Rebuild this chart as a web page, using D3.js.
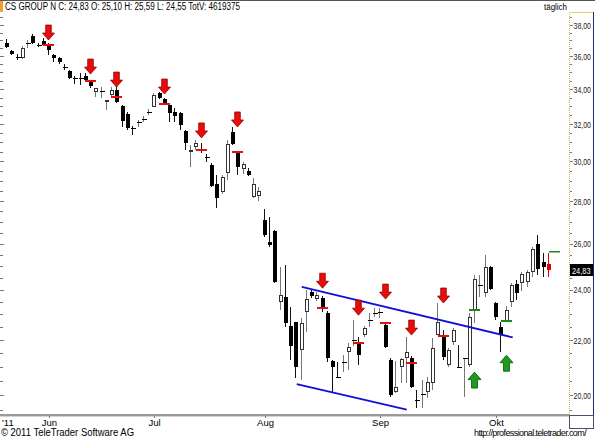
<!DOCTYPE html>
<html><head><meta charset="utf-8">
<script src="https://cdn.jsdelivr.net/npm/d3@7"></script>
<style>html,body{margin:0;padding:0;background:#fff;} svg{display:block;font-family:"Liberation Sans",Arial,sans-serif;}</style>
</head><body><div id="chart"></div>
<script>
// ---------- data ----------
const startDate = [2011, 4, 20];            // 20 May 2011
const holidays = ["2011-06-02", "2011-06-13", "2011-08-01"];
const nBars = 104;
const monthNames = ["Jan","Feb","Mär","Apr","Mai","Jun","Jul","Aug","Sep","Okt","Nov","Dez"];
const yearLabel = "'11";
const opens = [36.83,36.33,35.96,35.89,36.76,37.28,36.72,36.96,36.70,36.07,
 35.89,35.33,35.09,34.68,34.66,34.78,34.42,33.83,33.83,33.24,
 33.65,33.95,33.01,32.56,31.78,32.06,32.25,32.62,32.96,33.77,
 33.42,33.07,32.68,32.62,31.62,30.49,30.75,30.59,30.22,29.80,
 28.84,28.44,29.40,31.56,30.43,29.60,29.50,28.19,28.24,27.09,
 26.08,26.58,23.50,23.70,22.54,22.69,21.62,23.09,23.91,23.62,
 23.66,23.05,21.21,20.63,21.17,21.54,22.00,21.89,22.19,22.77,
 23.03,23.09,22.58,21.25,20.10,20.99,21.32,21.32,19.83,20.00,
 20.10,20.41,22.19,22.19,21.06,21.93,20.99,21.30,21.06,23.17,
 24.18,23.86,24.97,23.46,22.50,22.73,23.50,24.24,24.28,24.33,
 24.75,25.98,25.18,25.10];
const highs = [37.08,36.39,36.13,36.64,37.02,37.41,36.83,37.15,36.83,36.13,
 35.95,35.51,35.15,34.78,34.96,34.96,34.54,34.07,34.12,33.36,
 34.12,34.24,33.07,32.68,31.90,32.22,32.45,32.85,33.77,33.83,
 33.48,33.13,32.90,32.68,31.67,30.86,31.13,30.97,30.38,29.91,
 29.29,29.29,31.13,31.84,30.49,29.96,29.65,29.14,28.69,27.61,
 27.23,26.62,24.97,25.06,23.29,22.69,22.85,23.99,23.99,23.91,
 23.74,23.13,21.25,21.17,21.43,21.89,22.77,22.11,22.54,23.05,
 23.25,23.25,22.65,21.32,21.21,21.32,22.11,21.40,20.17,20.52,
 20.63,22.08,23.46,22.38,21.70,22.46,21.81,21.32,23.05,24.62,
 24.62,25.49,25.02,23.50,22.69,23.33,24.28,24.41,24.75,24.84,
 25.85,26.39,25.58,25.59];
const lows = [36.51,36.07,35.76,35.82,36.51,36.76,36.57,36.76,36.07,35.64,
 35.51,35.15,34.60,34.30,34.24,34.47,34.06,33.53,33.48,32.79,
 33.53,33.18,31.84,31.67,31.40,31.84,32.12,32.51,32.96,33.42,
 33.07,32.11,32.11,31.67,30.59,29.70,30.59,30.43,29.96,28.69,
 27.66,28.34,29.04,30.86,29.29,29.34,29.24,28.14,28.00,26.30,
 25.85,24.29,23.17,22.50,21.25,20.59,20.52,22.30,23.66,23.54,
 23.09,21.17,20.10,20.59,20.81,20.88,21.77,21.06,22.11,22.50,
 22.89,22.85,21.70,19.93,20.06,20.41,20.41,20.24,19.55,19.55,
 19.89,20.17,22.19,21.25,20.99,21.81,20.95,19.93,20.99,22.65,
 23.70,23.70,23.99,22.77,21.54,22.69,23.29,23.58,23.95,24.12,
 24.54,24.62,24.54,24.55];
const closes = [36.57,36.13,35.93,36.51,36.80,36.83,36.70,36.70,36.39,35.89,
 35.64,35.30,34.66,34.66,34.64,34.54,34.18,34.07,33.89,33.36,
 33.95,33.24,32.17,31.78,31.73,32.12,32.30,32.68,33.65,33.48,
 33.18,32.62,32.45,31.95,30.97,30.59,30.97,30.56,30.20,28.74,
 28.14,29.19,30.91,30.91,29.70,29.86,29.29,28.84,28.49,26.39,
 25.94,24.33,23.78,22.65,21.77,20.99,22.65,23.62,23.74,23.78,
 23.25,21.32,20.99,20.62,21.19,21.73,22.01,21.43,22.46,22.79,
 23.05,23.11,21.73,20.00,20.27,21.28,21.54,20.27,19.82,20.02,
 20.45,21.70,22.69,21.36,21.62,22.38,20.98,21.31,22.89,24.45,
 24.20,24.97,24.03,22.89,22.23,23.17,24.20,23.86,24.66,24.75,
 25.76,24.88,24.97,24.83];
const yTicks = [20, 22, 24, 26, 28, 30, 32, 34, 36, 38];
const sellIdx = [8, 16, 21, 30, 37, 44, 60, 67, 72, 77, 83];
const sellArrowTip = [37.02, 34.90, 34.12, 33.71, 31.24, 31.84, 24.07, 22.97, 23.62, 22.19, 23.46];
const sellLevel = [36.70, 34.48, 33.53, 33.13, 30.59, 30.49, 23.25, 21.89, 22.65, 21.14, 22.15];
const buyIdx = [89, 95];
const buyArrowTip = [20.81, 21.43];
const buyLevel = [23.17, 22.73];
const channelUpper = [56.03, 24.13, 96.14, 22.10];
const channelLower = [55.08, 20.38, 75.99, 19.50];
const lastLevel = 25.62;
const lastClose = 24.83;
const titleText = "CS GROUP N C: 24,83 O: 25,10 H: 25,59 L: 24,55 TotV: 4619375";
const periodText = "täglich";
const copyrightText = "© 2011 TeleTrader Software AG";
const urlText = "http://professional.teletrader.com/";

// ---------- trading calendar ----------
const dates = [];
{
  let d = new Date(Date.UTC(startDate[0], startDate[1], startDate[2]));
  while (dates.length < nBars) {
    const iso = d.toISOString().slice(0, 10);
    const wd = d.getUTCDay();
    if (wd !== 0 && wd !== 6 && !holidays.includes(iso)) dates.push(new Date(d));
    d.setUTCDate(d.getUTCDate() + 1);
  }
}
const bars = dates.map((dt, i) => ({i, date: dt, o: opens[i], h: highs[i], l: lows[i], c: closes[i]}));

// ---------- chart ----------
const W = 595, H = 440;
const plotR = 569, plotT = 12, plotB = 414;
const svg = d3.select("#chart").append("svg").attr("width", W).attr("height", H);
const defs = svg.append("defs");
defs.append("clipPath").attr("id", "plot").append("rect").attr("x", 0).attr("y", plotT).attr("width", plotR).attr("height", plotB - plotT);

const x = d3.scaleLinear().domain([0, nBars - 1]).range([7, 548.8]);
const y = d3.scaleLog().domain([20, 38]).range([395, 25]);
const fmt = v => d3.format(".2f")(v).replace(".", ",");

svg.append("rect").attr("width", W).attr("height", H).attr("fill", "#fff");
// top line & title
svg.append("line").attr("x1", 0).attr("x2", W).attr("y1", 0.5).attr("y2", 0.5).attr("stroke", "#555");
svg.append("rect").attr("x", 0).attr("y", 1).attr("width", 3).attr("height", 11).attr("fill", "#f0a030");
svg.append("text").attr("x", 5).attr("y", 10).attr("font-size", 10).attr("textLength", 235)
  .attr("lengthAdjust", "spacingAndGlyphs").attr("fill", "#000").text(titleText);
svg.append("text").attr("x", 544).attr("y", 9.5).attr("font-size", 9).attr("textLength", 23)
  .attr("lengthAdjust", "spacingAndGlyphs").attr("fill", "#000").text(periodText);

// right axis panel
svg.append("line").attr("x1", 569.5).attr("x2", 569.5).attr("y1", plotT).attr("y2", 415)
  .attr("stroke", "#c9b25a").attr("stroke-dasharray", "1,1");
svg.append("line").attr("x1", 569).attr("x2", 594).attr("y1", 12.5).attr("y2", 12.5).attr("stroke", "#e6cf6a");
svg.append("line").attr("x1", 593.5).attr("x2", 593.5).attr("y1", 12).attr("y2", 416).attr("stroke", "#1c2a6e");

const minor = d3.range(19.5, 38.51, 0.5).filter(v => y(v) > plotT + 1 && y(v) < plotB - 1);
const axisG = svg.append("g").attr("shape-rendering", "crispEdges");
minor.forEach(v => {
  const yy = Math.round(y(v)) + 0.5;
  const major = yTicks.includes(v);
  axisG.append("line").attr("x1", 570).attr("x2", major ? 573 : 572).attr("y1", yy).attr("y2", yy).attr("stroke", "#777");
  axisG.append("line").attr("x1", 0).attr("x2", major ? 4 : 3).attr("y1", yy).attr("y2", yy).attr("stroke", "#777");
});
const lab = svg.append("g");
yTicks.forEach(v => {
  lab.append("text").attr("x", 573.5).attr("y", y(v) + 3.5).attr("font-size", 9).attr("fill", "#222")
    .attr("textLength", 17.5).attr("lengthAdjust", "spacingAndGlyphs").text(fmt(v));
});
// last price tag
const ly = Math.round(y(lastClose));
lab.append("rect").attr("x", 570).attr("y", ly - 6).attr("width", 23).attr("height", 12).attr("fill", "#000");
lab.append("text").attr("x", 572).attr("y", ly + 3.5).attr("font-size", 9).attr("fill", "#fff")
  .attr("textLength", 18.5).attr("lengthAdjust", "spacingAndGlyphs").text(fmt(lastClose));

// bottom axis
svg.append("rect").attr("x", 0).attr("y", 414).attr("width", 569).attr("height", 2).attr("fill", "#9a9a9a");
svg.append("line").attr("x1", 0).attr("x2", 569).attr("y1", 416.5).attr("y2", 416.5).attr("stroke", "#d4d4d4");
svg.append("rect").attr("x", 569.5).attr("y", 415.5).attr("width", 24).attr("height", 13).attr("fill", "none").attr("stroke", "#4a5070");

const monthStarts = bars.filter((b, k) => k > 0 && b.date.getUTCMonth() !== bars[k - 1].date.getUTCMonth());
monthStarts.forEach(b => {
  const xx = Math.round(x(b.i)) + 0.5;
  svg.append("line").attr("x1", xx).attr("x2", xx).attr("y1", 416).attr("y2", 418).attr("stroke", "#777");
  svg.append("text").attr("x", xx).attr("y", 426).attr("text-anchor", "middle").attr("font-size", 9.5)
    .attr("fill", "#000").text(monthNames[b.date.getUTCMonth()]);
});
svg.append("text").attr("x", 2).attr("y", 426).attr("font-size", 9.5).attr("fill", "#000").text(yearLabel);

svg.append("text").attr("x", 1).attr("y", 436).attr("font-size", 10).attr("textLength", 133)
  .attr("lengthAdjust", "spacingAndGlyphs").attr("fill", "#000").text(copyrightText);
svg.append("text").attr("x", 474).attr("y", 435.5).attr("font-size", 9).attr("letter-spacing", -0.6)
  .attr("fill", "#000").text(urlText);

// plot content
const plot = svg.append("g").attr("clip-path", "url(#plot)");
const cg = plot.append("g").attr("shape-rendering", "crispEdges");
bars.forEach((b, k) => {
  const xi = Math.round(x(b.i));
  const isLast = k === bars.length - 1;
  const up = b.c >= b.o;
  const wickCol = isLast ? "#e00000" : (up ? "#777" : "#111");
  cg.append("line").attr("x1", xi - 0.5).attr("x2", xi - 0.5).attr("y1", y(b.h)).attr("y2", y(b.l)).attr("stroke", wickCol);
  const yTop = y(Math.max(b.o, b.c)), yBot = y(Math.min(b.o, b.c));
  const hgt = yBot - yTop;
  if (hgt < 1.5) {
    cg.append("rect").attr("x", xi - 2.5).attr("y", Math.round(yTop)).attr("width", 5).attr("height", 1).attr("fill", isLast ? "#e00000" : "#000");
  } else if (isLast) {
    cg.append("rect").attr("x", xi - 2).attr("y", yTop).attr("width", 4).attr("height", hgt).attr("fill", "#e00000");
  } else if (up) {
    cg.append("rect").attr("x", xi - 1.5).attr("y", Math.round(yTop) + 0.5).attr("width", 3).attr("height", Math.max(1, Math.round(hgt) - 1))
      .attr("fill", "#fff").attr("stroke", "#333");
  } else {
    cg.append("rect").attr("x", xi - 2).attr("y", yTop).attr("width", 4).attr("height", hgt).attr("fill", "#000");
  }
});

// channel lines
[channelUpper, channelLower].forEach(c => {
  plot.append("line").attr("x1", x(c[0])).attr("y1", y(c[1])).attr("x2", x(c[2])).attr("y2", y(c[3]))
    .attr("stroke", "#1010d8").attr("stroke-width", 1.8);
});

// level markers
sellIdx.forEach((id, k) => {
  const xi = Math.round(x(id));
  plot.append("rect").attr("x", xi - 6).attr("y", Math.round(y(sellLevel[k])) - 1).attr("width", 11).attr("height", 2).attr("fill", "#e41010");
});
buyIdx.forEach((id, k) => {
  const xi = Math.round(x(id));
  plot.append("rect").attr("x", xi - 6).attr("y", Math.round(y(buyLevel[k])) - 1).attr("width", 11).attr("height", 2).attr("fill", "#1a8a1a");
});
{
  const xi = Math.round(x(nBars - 1));
  plot.append("rect").attr("x", xi).attr("y", Math.round(y(lastLevel)) - 1).attr("width", 11).attr("height", 1.5).attr("fill", "#1a8a1a");
}

// arrows
sellIdx.forEach((id, k) => {
  const cx = Math.round(x(id)) - 0.5, ty = y(sellArrowTip[k]);
  const p = `M${cx-2.8},${ty-15} L${cx+2.8},${ty-15} L${cx+2.8},${ty-7} L${cx+6},${ty-7} L${cx},${ty} L${cx-6},${ty-7} L${cx-2.8},${ty-7} Z`;
  plot.append("path").attr("d", p).attr("fill", "#e80c0c").attr("stroke", "#9a0000").attr("stroke-width", 0.8);
});
buyIdx.forEach((id, k) => {
  const cx = Math.round(x(id)) - 0.5, ty = y(buyArrowTip[k]);
  const p = `M${cx},${ty} L${cx+6.5},${ty+7.5} L${cx+3},${ty+7.5} L${cx+3},${ty+16} L${cx-3},${ty+16} L${cx-3},${ty+7.5} L${cx-6.5},${ty+7.5} Z`;
  plot.append("path").attr("d", p).attr("fill", "#1e9a1e").attr("stroke", "#005a00").attr("stroke-width", 0.8);
});
</script>
</body></html>
